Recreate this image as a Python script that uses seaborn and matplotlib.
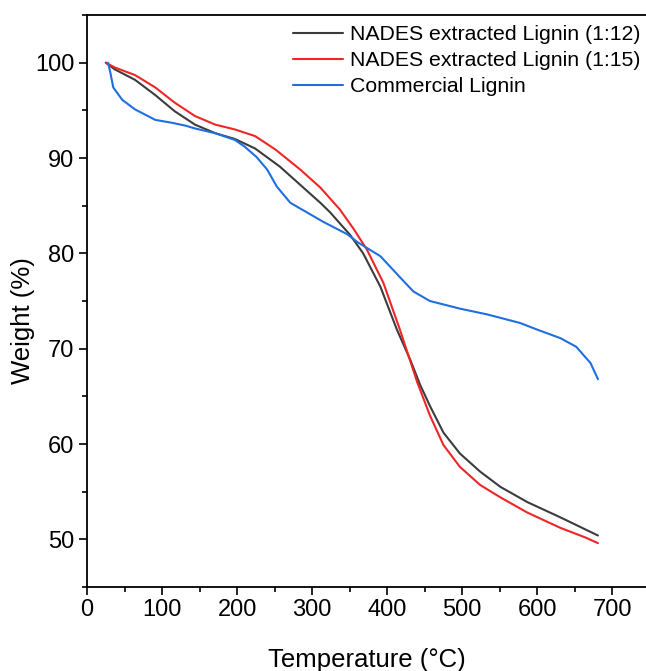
import numpy as np
import pandas as pd
import seaborn as sns
import matplotlib
matplotlib.use("Agg")
import matplotlib.pyplot as plt
from matplotlib.ticker import MultipleLocator

labels = ["NADES extracted Lignin (1:12)", "NADES extracted Lignin (1:15)", "Commercial Lignin"]
colors = ["#3c3c3c", "#ee2626", "#1f6fe0"]

t_12 = [25, 37, 64, 91, 117, 144, 171, 197, 224, 257, 284, 311, 324, 351, 368, 391, 413, 431, 444, 457, 475, 497, 524, 551, 587, 631, 681]
w_12 = [100, 99.3, 98.2, 96.6, 94.9, 93.5, 92.6, 92.0, 91.0, 89.1, 87.2, 85.3, 84.3, 81.9, 80.0, 76.5, 72.0, 68.8, 66.2, 64.0, 61.2, 59.0, 57.1, 55.5, 53.9, 52.3, 50.4]

t_15 = [25, 37, 64, 91, 117, 144, 171, 197, 224, 251, 284, 311, 337, 355, 373, 395, 417, 440, 457, 475, 497, 524, 551, 587, 631, 664, 681]
w_15 = [100, 99.5, 98.7, 97.4, 95.8, 94.4, 93.5, 93.0, 92.3, 90.9, 88.8, 86.9, 84.6, 82.6, 80.4, 76.9, 72.0, 66.5, 63.0, 59.9, 57.6, 55.7, 54.4, 52.8, 51.2, 50.2, 49.6]

t_c = [28, 31, 35, 47, 64, 91, 113, 131, 144, 171, 197, 210, 226, 240, 253, 271, 293, 315, 347, 360, 391, 417, 435, 457, 497, 533, 577, 600, 631, 652, 671, 681]
w_c = [100, 99.0, 97.4, 96.1, 95.1, 94.0, 93.7, 93.4, 93.1, 92.6, 91.9, 91.2, 90.1, 88.8, 87.0, 85.3, 84.3, 83.3, 82.0, 81.2, 79.7, 77.5, 76.0, 75.0, 74.2, 73.6, 72.7, 72.0, 71.1, 70.2, 68.5, 66.8]

df = pd.concat([
    pd.DataFrame({"T": t_12, "W": w_12, "s": labels[0]}),
    pd.DataFrame({"T": t_15, "W": w_15, "s": labels[1]}),
    pd.DataFrame({"T": t_c, "W": w_c, "s": labels[2]}),
])

sns.set_style("ticks")
plt.rcParams['font.family'] = ['Liberation Sans', 'DejaVu Sans']
plt.rcParams['text.color'] = 'black'
plt.rcParams['axes.labelcolor'] = 'black'
plt.rcParams['xtick.color'] = 'black'
plt.rcParams['ytick.color'] = 'black'

fig = plt.figure(figsize=(6.46, 6.71), dpi=100)
ax = fig.add_axes([0.1347, 0.1252, 0.8653, 0.8524])

sns.lineplot(data=df, x="T", y="W", hue="s", hue_order=labels, palette=colors,
             sort=False, estimator=None, linewidth=1.5, ax=ax)

ax.set_xlim(0, 745)
ax.set_ylim(45, 105)
ax.xaxis.set_major_locator(MultipleLocator(100))
ax.xaxis.set_minor_locator(MultipleLocator(50))
ax.yaxis.set_major_locator(MultipleLocator(10))
ax.yaxis.set_minor_locator(MultipleLocator(5))
ax.tick_params(which="major", direction="out", length=6, width=1.2, labelsize=17, colors="black", pad=3)
ax.tick_params(which="minor", direction="out", length=3.5, width=1.2, colors="black")
for side in ["left", "bottom", "top"]:
    ax.spines[side].set_visible(True)
    ax.spines[side].set_linewidth(1.3)
    ax.spines[side].set_color("black")
ax.spines["right"].set_visible(False)

ax.set_xlabel("Temperature (°C)", fontsize=18.5, color="black")
ax.set_ylabel("Weight (%)", fontsize=18.5, color="black")
ax.xaxis.set_label_coords(0.5, -0.107)
ax.yaxis.set_label_coords(-0.093, 0.465)

leg = ax.legend(loc="upper right", frameon=False, fontsize=15.3, handlelength=2.35,
                handletextpad=0.33, labelspacing=0.33, borderaxespad=0.0,
                bbox_to_anchor=(1.0045, 0.997))
for h in leg.get_lines():
    h.set_linewidth(1.5)
for t in leg.get_texts():
    t.set_color("black")

fig.savefig("out.png", dpi=100)
